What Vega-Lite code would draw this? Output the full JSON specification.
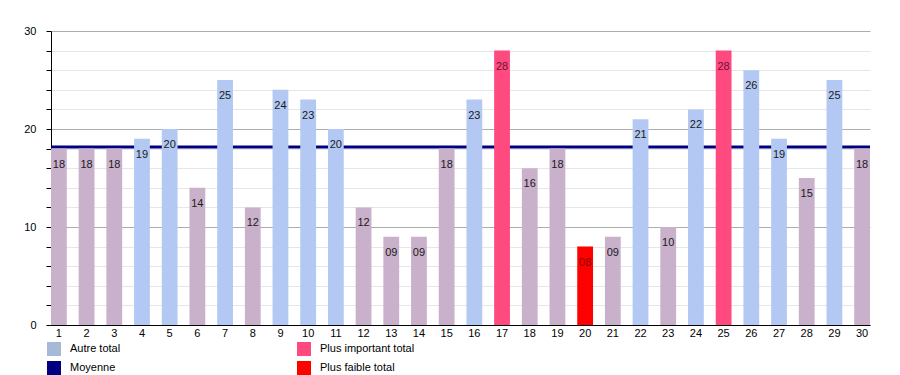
{
  "$schema": "https://vega.github.io/schema/vega-lite/v6.json",
  "width": 819,
  "height": 294,
  "autosize": {"type": "none"},
  "padding": {"left": 51, "top": 31, "right": 30, "bottom": 50},
  "background": "white",
  "config": {
    "font": "Liberation Sans",
    "view": {"stroke": null},
    "axis": {"labelFont": "Liberation Sans", "labelFontSize": 11, "labelColor": "#000"},
    "legend": {"labelFont": "Liberation Sans", "labelFontSize": 11, "labelColor": "#000"}
  },
  "data": {
    "values": [
      {"jour": 1, "valeur": 18, "type": "Autre total"},
      {"jour": 2, "valeur": 18, "type": "Autre total"},
      {"jour": 3, "valeur": 18, "type": "Autre total"},
      {"jour": 4, "valeur": 19, "type": "Autre total"},
      {"jour": 5, "valeur": 20, "type": "Autre total"},
      {"jour": 6, "valeur": 14, "type": "Autre total"},
      {"jour": 7, "valeur": 25, "type": "Autre total"},
      {"jour": 8, "valeur": 12, "type": "Autre total"},
      {"jour": 9, "valeur": 24, "type": "Autre total"},
      {"jour": 10, "valeur": 23, "type": "Autre total"},
      {"jour": 11, "valeur": 20, "type": "Autre total"},
      {"jour": 12, "valeur": 12, "type": "Autre total"},
      {"jour": 13, "valeur": 9, "type": "Autre total"},
      {"jour": 14, "valeur": 9, "type": "Autre total"},
      {"jour": 15, "valeur": 18, "type": "Autre total"},
      {"jour": 16, "valeur": 23, "type": "Autre total"},
      {"jour": 17, "valeur": 28, "type": "Plus important total"},
      {"jour": 18, "valeur": 16, "type": "Autre total"},
      {"jour": 19, "valeur": 18, "type": "Autre total"},
      {"jour": 20, "valeur": 8, "type": "Plus faible total"},
      {"jour": 21, "valeur": 9, "type": "Autre total"},
      {"jour": 22, "valeur": 21, "type": "Autre total"},
      {"jour": 23, "valeur": 10, "type": "Autre total"},
      {"jour": 24, "valeur": 22, "type": "Autre total"},
      {"jour": 25, "valeur": 28, "type": "Plus important total"},
      {"jour": 26, "valeur": 26, "type": "Autre total"},
      {"jour": 27, "valeur": 19, "type": "Autre total"},
      {"jour": 28, "valeur": 15, "type": "Autre total"},
      {"jour": 29, "valeur": 25, "type": "Autre total"},
      {"jour": 30, "valeur": 18, "type": "Autre total"}
    ]
  },
  "transform": [
    {"joinaggregate": [{"op": "mean", "field": "valeur", "as": "moyenne"}]}
  ],
  "encoding": {
    "x": {
      "field": "jour",
      "type": "ordinal",
      "sort": "ascending",
      "scale": {"paddingInner": 0.43, "paddingOuter": 0},
      "axis": {
        "title": null,
        "labelAngle": 0,
        "ticks": false,
        "domainColor": "#000",
        "domainWidth": 1,
        "labelPadding": 2,
        "grid": false
      }
    },
    "y": {
      "field": "valeur",
      "type": "quantitative",
      "scale": {"domain": [0, 30], "nice": false},
      "axis": {
        "title": null,
        "values": [0, 2, 4, 6, 8, 10, 12, 14, 16, 18, 20, 22, 24, 26, 28, 30],
        "labelExpr": "datum.value % 10 == 0 ? datum.label : ''",
        "labelOverlap": false,
        "tickSize": 5,
        "tickColor": "#000",
        "domainColor": "#000",
        "labelPadding": 10,
        "grid": true,
        "gridColor": {"condition": {"test": "datum.value % 10 == 0", "value": "#adadad"}, "value": "#e6e6e6"},
        "gridWidth": 1
      }
    }
  },
  "layer": [
    {
      "mark": {"type": "rule", "strokeWidth": 3},
      "encoding": {
        "x": null,
        "y": {"aggregate": "mean", "field": "valeur", "type": "quantitative"},
        "color": {"datum": "Moyenne", "type": "nominal"}
      }
    },
    {
      "mark": {"type": "bar"},
      "encoding": {
        "color": {
          "field": "type",
          "type": "nominal",
          "condition": [
            {"test": "datum.type == 'Autre total' && datum.valeur < datum.moyenne", "value": "#c9b0cb"},
            {"test": "datum.type == 'Autre total'", "value": "#b3c9f3"}
          ],
          "scale": {
            "domain": ["Autre total", "Moyenne", "Plus important total", "Plus faible total"],
            "range": ["#a6b9d6", "#000080", "#ff4a80", "#ff0000"]
          },
          "legend": {
            "title": null,
            "orient": "none",
            "legendX": -4,
            "legendY": 311,
            "columns": 2,
            "columnPadding": 176,
            "rowPadding": 5,
            "symbolType": "square",
            "symbolSize": 196,
            "symbolStrokeWidth": 0,
            "labelOffset": 9,
            "encode": {
              "symbols": {
                "update": {
                  "fill": {"scale": "color", "field": "value"},
                  "stroke": {"value": "transparent"},
                  "shape": {"value": "square"},
                  "opacity": {"value": 1}
                }
              }
            }
          }
        }
      }
    },
    {
      "mark": {"type": "text", "baseline": "middle", "dy": 16, "fontSize": 11},
      "encoding": {
        "text": {"field": "valeur", "type": "quantitative", "format": "02d"},
        "color": {
          "condition": [
            {"test": "datum.type == 'Plus faible total'", "value": "#8a0000"},
            {"test": "datum.type == 'Plus important total'", "value": "#6e1230"}
          ],
          "value": "#1a1a1a"
        }
      }
    }
  ]
}
